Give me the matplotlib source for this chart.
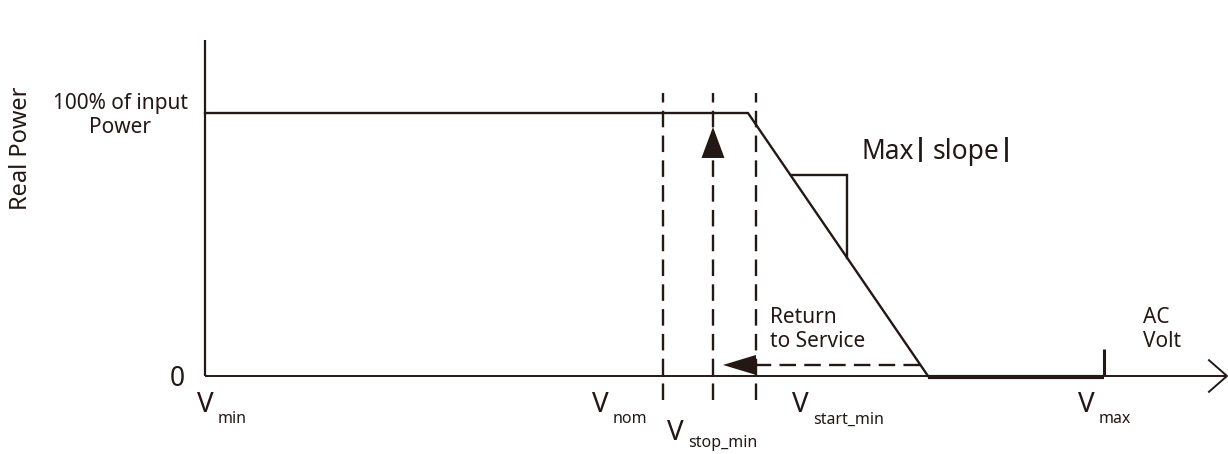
import numpy as np
import matplotlib
matplotlib.use("Agg")
import matplotlib.pyplot as plt

plt.rcParams['font.family'] = ['Noto Sans', 'DejaVu Sans']

# voltage positions (arbitrary units, V_min = 0) and power in % of input
v_nom = 458
v_stop_min = 508
v_start_min = 551
v_max = 899
v_axis_end = 1022

curve_v = [0, 543, 723]
curve_p = [100, 100, 0]
floor_v = [723, 899]
floor_p = [0, 0]

v_return = 715          # where the return-to-service arrow starts
p_return = 4.2
slope_v = [585.5, 642]  # corner of the slope triangle

label_names = ['min', 'nom', 'stop_min', 'start_min', 'max']

fig = plt.figure(figsize=(12.28, 4.54), dpi=100)
ax = fig.add_axes([0, 0, 1, 1])
ax.set_xlim(-205, 1023)
ax.set_ylim(-29.66, 142.97)
ax.axis('off')

ink = '#231815'
k = dict(color=ink, solid_capstyle='butt')

# axes
ax.plot([0, 0], [0, 127.8], lw=1.6, **k)
ax.plot([0, v_axis_end], [0, 0], lw=1.4, **k)
ax.plot([v_axis_end - 18, v_axis_end, v_axis_end - 18], [6.0, 0, -6.0], lw=1.4, color=ink)

# power curve
ax.plot(curve_v, curve_p, lw=1.7, color=ink, solid_joinstyle='miter')
ax.plot(floor_v, np.array(floor_p) - 0.5, lw=3.0, **k)
ax.plot([v_max, v_max], [0, 10.3], lw=2.2, **k)

# dashed guides
for v in [v_nom, v_stop_min, v_start_min]:
    ax.plot([v, v], [-9.1, 107.6], lw=1.7, ls=(0, (7, 3.5)), color=ink)

# up arrow on V_stop_min
tip, base, hw = 94.7, 82.9, 11.5
ax.fill([v_stop_min - hw, v_stop_min + hw, v_stop_min], [base, base, tip], color=ink, lw=0)

# return to service arrow
ax.plot([v_return, v_start_min], [p_return, p_return], lw=1.7, ls=(0, (7, 3.5)), color=ink)
ax.fill([v_start_min, v_start_min, v_start_min - 33], [p_return - 3.8, p_return + 3.8, p_return],
        color=ink, lw=0)

# slope triangle, corners taken on the falling part of the curve
sp = np.interp(slope_v, curve_v[1:], curve_p[1:])
ax.plot([slope_v[0], slope_v[1], slope_v[1]], [sp[0], sp[0], sp[1]], lw=1.7, color=ink,
        solid_joinstyle='miter')

ax.text(-184, 86.7, 'Real Power', rotation=90, ha='center', va='center', fontsize=17, color=ink)
ax.text(-85, 99.2, '100% of input\nPower', ha='center', va='center', fontsize=15, color=ink,
        linespacing=1.2)
ax.text(-20, -3.8, '0', ha='right', va='baseline', fontsize=19, color=ink)

v_x = [-8, 387, 462, 587, 873]
v_y = [-13.7, -13.7, -24.5, -13.7, -13.7]
sub_drop = [4.3, 4.3, 2.5, 4.3, 4.3]
for name, x, y, d in zip(label_names, v_x, v_y, sub_drop):
    ax.text(x, y, 'V', ha='left', va='baseline', fontsize=20, color=ink)
    ax.text(x + 21, y - d, name, ha='left', va='baseline', fontsize=11.5, color=ink)

bar = dict(ha='left', va='baseline', fontsize=18, color=ink, fontweight='bold', family='DejaVu Sans')
ax.text(657, 82.5, 'Max', ha='left', va='baseline', fontsize=19, color=ink)
ax.text(711, 83.5, '|', **bar)
ax.text(728, 82.5, 'slope', ha='left', va='baseline', fontsize=19, color=ink)
ax.text(797, 83.5, '|', **bar)

ax.text(565, 26.2, 'Return\nto Service', ha='left', va='top', fontsize=15, color=ink, linespacing=1.2)
ax.text(938, 26.2, 'AC\nVolt', ha='left', va='top', fontsize=15, color=ink, linespacing=1.2)

fig.savefig('out.png', dpi=100)
